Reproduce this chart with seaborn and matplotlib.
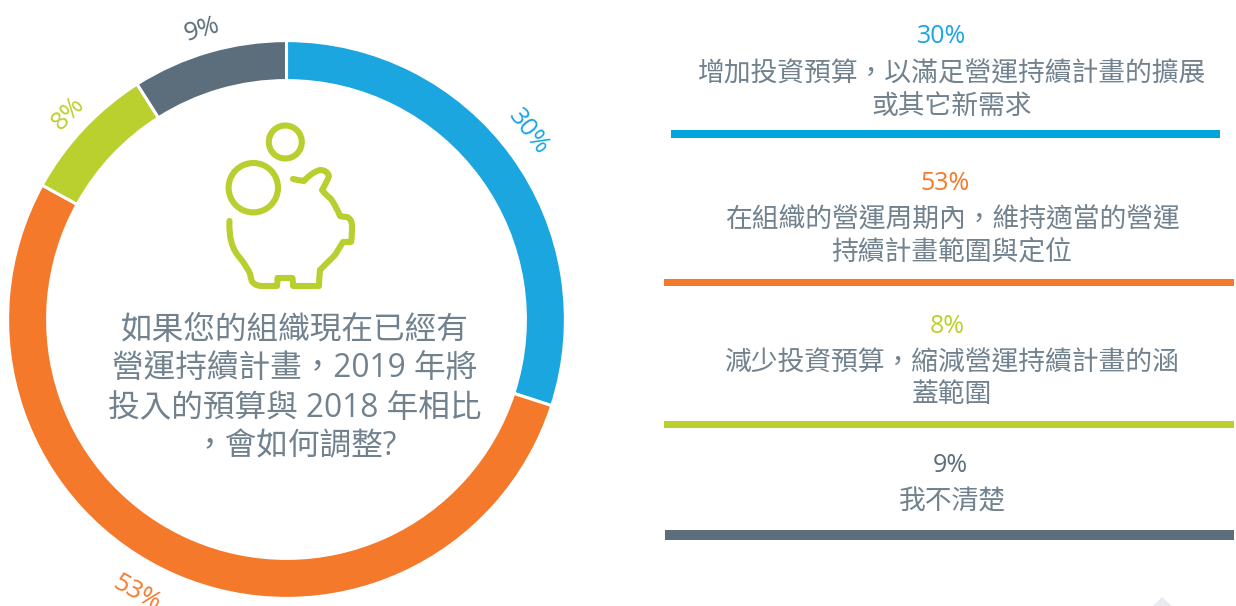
import numpy as np
import matplotlib
matplotlib.use("Agg")
import matplotlib.pyplot as plt
import seaborn as sns
from matplotlib.path import Path
from matplotlib.patches import PathPatch, Circle, Polygon

# data
values = [30, 53, 8, 9]
pct_labels = ["30%", "53%", "8%", "9%"]
ring_colors = ["#1ba6e0", "#f5792a", "#bad02f", "#5c6e7b"]
bar_colors = ["#00a3de", "#f5792a", "#bad02f", "#5c6e7b"]
answers = [
    ["增加投資預算，以滿足營運持續計畫的擴展", "或其它新需求"],
    ["在組織的營運周期內，維持適當的營運", "持續計畫範圍與定位"],
    ["減少投資預算，縮減營運持續計畫的涵", "蓋範圍"],
    ["我不清楚"],
]
question = ["如果您的組織現在已經有", "營運持續計畫，2019 年將", "投入的預算與 2018 年相比", "，會如何調整?"]

sns.set_theme(style="white")
plt.rcParams["font.family"] = ["Open Sans", "Noto Sans CJK TC", "DejaVu Sans"]
W, H = 1236, 606
text_col = "#71828e"
green = "#b9cf2f"

fig = plt.figure(figsize=(W / 100, H / 100), dpi=100, facecolor="white")

# overlay in pixel coords, y going down like the picture
ax = fig.add_axes([0, 0, 1, 1])
ax.set_xlim(0, W)
ax.set_ylim(H, 0)
ax.axis("off")

# donut, the white edge eats 1.5px each side so radius and width are a bit bigger
cx, cy, R = 286.5, 319.5, 278.9
pie_ax = fig.add_axes([(cx - R) / W, 1 - (cy + R) / H, 2 * R / W, 2 * R / H])
pie_ax.pie(values, colors=sns.color_palette(ring_colors), startangle=90, counterclock=False, radius=1,
           wedgeprops=dict(width=40 / R, edgecolor="white", linewidth=2.2))
pie_ax.set_xlim(-1, 1)
pie_ax.set_ylim(-1, 1)
pie_ax.set_zorder(0)
ax.set_zorder(1)

# percent labels follow the ring, small nudges per label
nudge = [-1.8, 5.3, 0.3, 0]
label_r = [305.7, 312, 300, 302]
start = 0
for v, lab, col, n, r in zip(values, pct_labels, ring_colors, nudge, label_r):
    ang = (start + v / 2) * 3.6 + n
    start += v
    x = cx + r * np.sin(np.radians(ang))
    y = cy - r * np.cos(np.radians(ang))
    rot = -ang if ang < 90 or ang > 270 else 180 - ang
    ax.text(x, y, lab, color=col, fontsize=18.5, ha="center", va="center", rotation=rot,
            rotation_mode="anchor", clip_on=True)

# centre question
for y, line in zip([339.5, 378, 416.5, 455], question):
    ax.text(295, y, line, color=text_col, fontsize=22.8, ha="center", va="baseline")

# piggy icon
lw = 4.4
ax.add_patch(Circle((285.3, 142), 16.5, fill=False, ec=green, lw=lw))
ax.add_patch(Circle((253.3, 187.7), 24.7, fill=False, ec=green, lw=lw))
pig = [(229.5, 221), (228, 245), (240, 258), (248, 268), (250.5, 275), (250.5, 286),
       (262, 286), (273, 286), (277, 286), (277.5, 282), (277.5, 278), (285, 278), (292.5, 278),
       (293, 282), (293, 286), (297, 286), (305, 286), (316, 286), (319, 286), (319, 280), (320, 270),
       (325, 265), (335, 255), (340, 247), (343, 242), (347, 242), (351, 242), (352, 238), (352, 226),
       (352, 219), (347, 217), (343, 217), (340, 216), (337, 208), (331, 199), (325, 194), (322, 190),
       (328, 180), (329, 176), (327, 170), (320, 170), (312, 172), (304, 181), (297, 180), (293, 179)]
codes = [Path.MOVETO] + [Path.CURVE3] * (len(pig) - 1)
if len(pig) % 2 == 0:
    codes[-1] = Path.LINETO
ax.add_patch(PathPatch(Path(pig, codes), fill=False, ec=green, lw=lw, capstyle="round", joinstyle="round"))

# right column
pct_pos = [(942, 43), (945, 190), (947, 333), (950, 472)]
line_ys = [[81.5, 114], [227, 259.5], [370.5, 402.5], [509.5]]
bars = [(671, 1220, 130, 138), (664, 1234, 279, 286), (664, 1234, 421, 428), (665, 1234, 530, 540)]
for i in range(4):
    ax.text(pct_pos[i][0], pct_pos[i][1], pct_labels[i], color=ring_colors[i], fontsize=18, ha="center",
            va="baseline")
    for y, line in zip(line_ys[i], answers[i]):
        ax.text(952, y, line, color=text_col, fontsize=19.3, ha="center", va="baseline")
    x0, x1, y0, y1 = bars[i]
    ax.fill([x0, x1, x1, x0], [y0, y0, y1, y1], color=bar_colors[i], lw=0)

# faint watermark corner
ax.add_patch(Polygon([(1162, 597), (1172, 606), (1153, 606)], color="#e8ebef", lw=0))

fig.savefig("out.png", dpi=100, facecolor="white")
